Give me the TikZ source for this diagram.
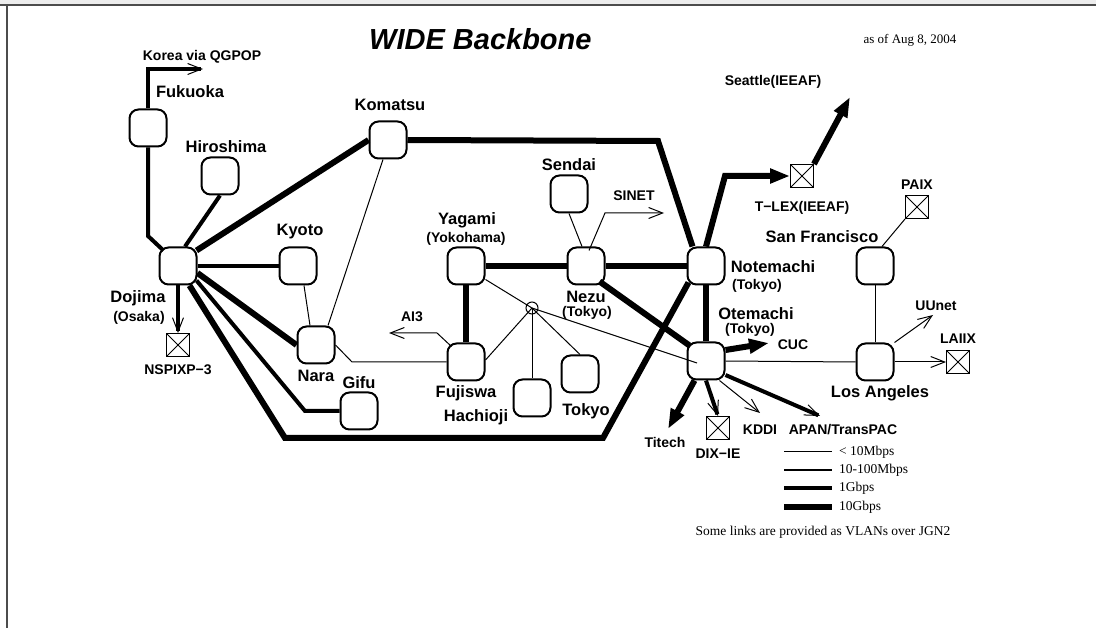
\documentclass[tikz,border=0pt]{standalone}
\usepackage{fontspec}
\setmainfont{Liberation Serif}
\setsansfont{Liberation Sans}
\usetikzlibrary{arrows.meta,calc}
\begin{document}
\begin{tikzpicture}[x=1pt,y=-1pt,
  router/.style={draw,line width=2pt,rounded corners=9pt,minimum width=37pt,minimum height=37pt,inner sep=0pt},
  xbox/.style={draw,line width=0.9pt,minimum size=23pt,inner sep=0pt,
    path picture={\draw[line width=0.9pt] (path picture bounding box.south west) -- (path picture bounding box.north east)
      (path picture bounding box.north west) -- (path picture bounding box.south east);}},
  big/.style={font=\fontsize{16.5}{18}\selectfont\sffamily\bfseries,inner sep=0pt},
  sml/.style={font=\fontsize{14}{16}\selectfont\sffamily\bfseries,inner sep=0pt},
  serif/.style={font=\fontsize{13.5}{15}\selectfont\rmfamily,inner sep=0pt},
  thinl/.style={line width=1pt},
  gig/.style={line width=4pt},
  tengig/.style={line width=6pt},
  oarr/.style={-{Straight Barb[length=14pt,width=11pt,line width=1pt]}},
  farr/.style={-{Triangle[length=20pt,width=14pt]}}
]
\useasboundingbox (0,0) rectangle (1096,628);
% frame
\fill[black!7] (0,0) rectangle (1096,4.5);
\draw[line width=2pt,black!70] (0,5.5) -- (1096,5.5);
\draw[line width=2pt,black!70] (6.5,5.5) -- (6.5,628);

% title
\node[font=\fontsize{29}{32}\selectfont\sffamily\bfseries\itshape,inner sep=0pt,anchor=base west] (title) at (369,50) {WIDE Backbone};
\node[font=\fontsize{13}{15}\selectfont\rmfamily,inner sep=0pt] (date) at (910,40) {as of Aug 8, 2004};

% routers
\node[router] (fuk) at (148,128) {};
\node[router] (hir) at (220,176) {};
\node[router] (kom) at (388,140) {};
\node[router] (doj) at (178,266) {};
\node[router] (kyo) at (298,266) {};
\node[router] (nar) at (316,345) {};
\node[router] (gif) at (359,411) {};
\node[router] (yag) at (466,266) {};
\node[router] (nez) at (586,266) {};
\node[router] (fuj) at (466,362) {};
\node[router] (hac) at (532,398) {};
\node[router] (tok) at (580,374) {};
\node[router] (sen) at (569,194) {};
\node[router] (not) at (706,266) {};
\node[router] (ote) at (706,361) {};
\node[router] (sf) at (875,266) {};
\node[router] (la) at (875,362) {};
\node[draw,circle,thinl,minimum size=12pt,inner sep=0pt] (hub) at (532,308) {};
% exchange points
\node[xbox] (nsp) at (178,345) {};
\node[xbox] (dix) at (718,428) {};
\node[xbox] (tlex) at (802,176) {};
\node[xbox] (paix) at (917,207) {};
\node[xbox] (laiix) at (958,362) {};

% free ends
\coordinate (korea) at (203,69);
\coordinate (ai3) at (389,333);
\coordinate (sinet) at (664,213);
\coordinate (seattle) at (850,97);
\coordinate (titech) at (668,429);
\coordinate (kddi) at (760,413);
\coordinate (apan) at (820,416);
\coordinate (cuc) at (769,343);
\coordinate (uunet) at (933,315);

% 10G links
\draw[tengig] (kom.west) -- ($(doj.north east)+(-1,4)$);
\draw[tengig] ($(doj.east)+(0,7)$) -- (nar.west);
\draw[tengig] ($(doj.south east)+(-8,0)$) -- (285,438) -- (603,438) -- ($(not.south west)+(2,-3)$);
\draw[tengig] (kom.east) -- (658,141) -- ($(not.north west)+(6,0)$);
\draw[tengig,farr] (not.north) -- (725,176) -- (tlex.west);
\draw[tengig,farr] (tlex.north east) -- (seattle);
\draw[tengig] (yag.east) -- (nez.west);
\draw[tengig] (nez.east) -- (not.west);
\draw[tengig] (yag.south) -- (fuj.north);
\draw[tengig] ($(nez.south east)+(-6,-4)$) -- ($(ote.north west)+(3,4)$);
\draw[tengig] (not.south) -- (ote.north);
\draw[tengig,farr] ($(ote.south west)+(8,0)$) -- (titech);
\draw[tengig,farr] ($(ote.east)+(0,-11)$) -- (cuc);

% 1G links
\draw[gig,oarr] (fuk.north) -- (148,69) -- (korea);
\draw[gig] (fuk.south) -- (148,236) -- ($(doj.north west)+(5,4)$);
\draw[gig] (hir.south) -- ($(doj.north)+(7,0)$);
\draw[gig] (doj.east) -- (kyo.west);
\draw[gig] ($(doj.south east)+(-1,-5)$) -- (305,411) -- (gif.west);
\draw[gig,oarr] (doj.south) -- (nsp.north);
\draw[gig,oarr] (ote.south) -- (dix.north);
\draw[gig,oarr] ($(ote.east)+(0,14)$) -- (apan);

% thin links
\draw[thinl,oarr] ($(ote.south east)+(-6,0)$) -- (kddi);
\draw[thinl] (ote.east) -- (la.west);
\draw[thinl,oarr] (la.east) -- (laiix.west);
\draw[thinl,oarr] (la.north east) -- (uunet);
\draw[thinl] (sf.south) -- (la.north);
\draw[thinl] ($(sf.north)+(7,0)$) -- (paix.south west);
\draw[thinl] (sen.south) -- ($(nez.north)+(-4,0)$);
\draw[thinl,oarr] ($(nez.north)+(3,4)$) -- (605,213) -- (sinet);
\draw[thinl] ($(kyo.south)+(6,0)$) -- ($(nar.north)+(-6,0)$);
\draw[thinl] ($(kom.south)+(-5,0)$) -- ($(nar.north)+(12,0)$);
\draw[thinl] (nar.east) -- (352,362) -- (fuj.west);
\draw[thinl,oarr] ($(fuj.north west)+(5,4)$) -- (437,333) -- (ai3);
\draw[thinl] ($(yag.south east)+(0,-6)$) -- (hub.center);
\draw[thinl] (hub.center) -- ($(fuj.east)+(0,-2)$);
\draw[thinl] (hub.center) -- (hac.north);
\draw[thinl] (hub.center) -- (tok.north);
\draw[thinl] (hub.center) -- ($(ote)+(-9,2)$);

% labels
\node[sml] (lkorea) at (202,57) {Korea via QGPOP};
\node[big] (lfuk) at (190,92) {Fukuoka};
\node[big] (lhir) at (226,147) {Hiroshima};
\node[big] (lkom) at (390,105) {Komatsu};
\node[big] (ldoj) at (138,298) {Dojima};
\node[sml] (losa) at (139,318) {(Osaka)};
\node[sml] (lnsp) at (178,370) {NSPIXP−3};
\node[big] (lkyo) at (300,232) {Kyoto};
\node[big] (lnar) at (316,376) {Nara};
\node[big] (lgif) at (359,383) {Gifu};
\node[big] (lyag) at (467,220) {Yagami};
\node[sml] (lyok) at (466,239) {(Yokohama)};
\node[big] (lnez) at (586,296.5) {Nezu};
\node[sml] (lnezt) at (587,312.5) {(Tokyo)};
\node[big] (lfuj) at (466,393) {Fujiswa};
\node[big] (lhac) at (476,417) {Hachioji};
\node[big] (ltok) at (586,411) {Tokyo};
\node[sml] (lai3) at (412,317) {AI3};
\node[big] (lsen) at (569,165) {Sendai};
\node[sml] (lsinet) at (634,196) {SINET};
\node[big] (lnot) at (773,267) {Notemachi};
\node[sml] (lnott) at (757,286) {(Tokyo)};
\node[big] (lote) at (756,313.5) {Otemachi};
\node[sml] (lotet) at (750,329.5) {(Tokyo)};
\node[sml] (lcuc) at (793,345) {CUC};
\node[sml] (ltitech) at (665,442) {Titech};
\node[sml] (ldix) at (718,454) {DIX−IE};
\node[sml] (lkddi) at (760,430) {KDDI};
\node[sml] (lapan) at (843,430) {APAN/TransPAC};
\node[big] (lla) at (880,393) {Los Angeles};
\node[sml] (llaiix) at (958,339) {LAIIX};
\node[sml] (luunet) at (936,306) {UUnet};
\node[big] (lsf) at (822,237) {San Francisco};
\node[sml] (lpaix) at (917,185) {PAIX};
\node[sml] (ltlex) at (802,208) {T−LEX(IEEAF)};
\node[sml] (lsea) at (773,82) {Seattle(IEEAF)};

% legend
\draw[line width=1pt] (784,452) -- (832,452);
\draw[line width=1.3pt] (784,470) -- (832,470);
\draw[line width=4pt] (784,488) -- (832,488);
\draw[line width=6pt] (784,507) -- (832,507);
\node[serif,anchor=west] (lg1) at (839,452) {< 10Mbps};
\node[serif,anchor=west] (lg2) at (839,470) {10-100Mbps};
\node[serif,anchor=west] (lg3) at (839,488) {1Gbps};
\node[serif,anchor=west] (lg4) at (839,507) {10Gbps};
\node[serif] (note) at (823,532) {Some links are provided as VLANs over JGN2};
\end{tikzpicture}
\end{document}
